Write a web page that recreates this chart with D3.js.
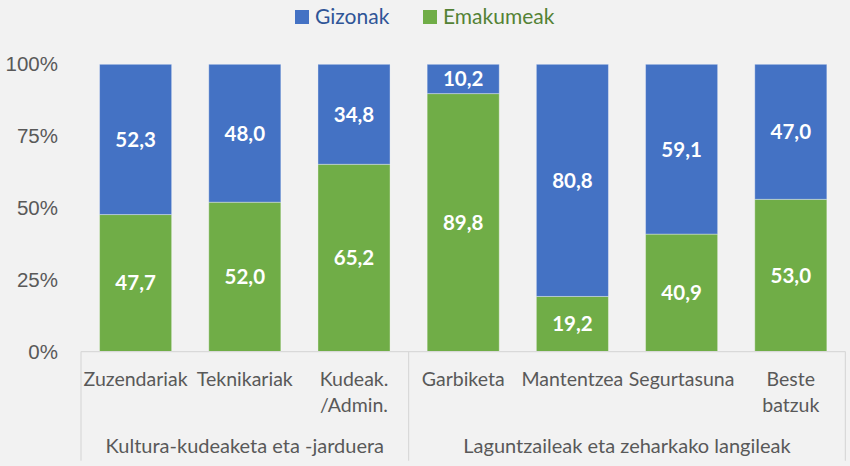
<!DOCTYPE html>
<html lang="en">
<head>
    <meta charset="UTF-8">
    <title>Gizonak eta emakumeak</title>
    <script src="https://d3js.org/d3.v7.min.js"></script>
    <style>
        body {
            margin: 0;
            background-color: #f2f2f2;
            font-family: Lato, 'Open Sans', sans-serif;
        }

        svg {
            display: block;
            background-color: #f2f2f2;
        }

        .axis path,
        .axis line {
            display: none;
        }

        .axis text {
            fill: #595959;
            font-size: 20.5px;
        }

        .cat-label {
            fill: #595959;
            font-size: 19.5px;
        }

        .group-label {
            fill: #595959;
            font-size: 20px;
        }

        .value-label {
            fill: #fff;
            font-weight: bold;
            font-size: 20.5px;
        }

        .legend text {
            font-size: 21px;
        }
    </style>
</head>
<body>
    <div id="chart"></div>
    <script>
        // data
        const categories = ["Zuzendariak", "Teknikariak", "Kudeak.\n/Admin.", "Garbiketa",
            "Mantentzea", "Segurtasuna", "Beste\nbatzuk"];
        const groups = ["Kultura-kudeaketa eta -jarduera", "Laguntzaileak eta zeharkako langileak"];
        const groupSizes = [3, 4];
        const gizonak = [52.3, 48.0, 34.8, 10.2, 80.8, 59.1, 47.0];
        const emakumeak = [47.7, 52.0, 65.2, 89.8, 19.2, 40.9, 53.0];
        const yTicks = [0, 25, 50, 75, 100];

        const seriesNames = ["Gizonak", "Emakumeak"];
        const colors = { gizonak: "#4472c4", emakumeak: "#70ad47" };
        const textColors = { gizonak: "#2f5597", emakumeak: "#548235" };

        let width = 850, height = 466;
        let plot = { left: 81, right: 845.4, top: 64.3, bottom: 351.6 };

        let svg = d3.select("#chart").append("svg")
            .attr("width", width)
            .attr("height", height);

        let rows = categories.map((c, i) => ({ cat: c, gizonak: gizonak[i], emakumeak: emakumeak[i] }));
        let stacked = d3.stack().keys(["emakumeak", "gizonak"])(rows);

        let x = d3.scaleBand()
            .domain(categories)
            .range([plot.left, plot.right])
            .paddingInner(0.34)
            .paddingOuter(0.17);

        let y = d3.scaleLinear()
            .domain([0, 100])
            .range([plot.bottom, plot.top]);

        // y axis
        svg.append("g")
            .attr("class", "axis")
            .attr("transform", "translate(58,0)")
            .call(d3.axisLeft(y).tickValues(yTicks).tickSize(0).tickPadding(0).tickFormat(d => d + "%"));

        // bars
        stacked.forEach(layer => {
            svg.append("g")
                .selectAll("rect")
                .data(layer)
                .join("rect")
                .attr("x", d => x(d.data.cat))
                .attr("y", d => y(d[1]))
                .attr("width", x.bandwidth())
                .attr("height", d => y(d[0]) - y(d[1]))
                .attr("fill", colors[layer.key])
                .attr("stroke", "#ffffff")
                .attr("stroke-opacity", 0.35)
                .attr("stroke-width", 1);

            svg.append("g")
                .selectAll("text")
                .data(layer)
                .join("text")
                .attr("class", "value-label")
                .attr("x", d => x(d.data.cat) + x.bandwidth() / 2)
                .attr("y", d => (y(d[0]) + y(d[1])) / 2)
                .attr("dy", "0.36em")
                .attr("text-anchor", "middle")
                .text(d => (d[1] - d[0]).toFixed(1).replace(".", ","));
        });

        // x axis line and group separators
        svg.append("line")
            .attr("x1", plot.left).attr("x2", plot.right)
            .attr("y1", plot.bottom).attr("y2", plot.bottom)
            .attr("stroke", "#d9d9d9").attr("stroke-width", 1.2);

        let bounds = [0];
        groupSizes.forEach(n => bounds.push(bounds[bounds.length - 1] + n));
        let step = x.step();
        let edgeX = i => plot.left + i * step;

        svg.selectAll(".sep")
            .data(bounds)
            .join("line")
            .attr("class", "sep")
            .attr("x1", d => edgeX(d)).attr("x2", d => edgeX(d))
            .attr("y1", plot.bottom).attr("y2", 460.7)
            .attr("stroke", "#d9d9d9").attr("stroke-width", 1.2);

        // category labels
        svg.selectAll(".cat-label")
            .data(categories)
            .join("text")
            .attr("class", "cat-label")
            .attr("text-anchor", "middle")
            .attr("y", 385.7)
            .each(function (d) {
                let t = d3.select(this);
                d.split("\n").forEach((line, k) => {
                    t.append("tspan")
                        .attr("x", x(d) + x.bandwidth() / 2)
                        .attr("dy", k === 0 ? 0 : 26)
                        .text(line);
                });
            });

        // group labels
        svg.selectAll(".group-label")
            .data(groups)
            .join("text")
            .attr("class", "group-label")
            .attr("text-anchor", "middle")
            .attr("x", (d, i) => (edgeX(bounds[i]) + edgeX(bounds[i + 1])) / 2)
            .attr("y", 453.3)
            .text(d => d);

        // legend
        let legend = svg.append("g").attr("class", "legend");
        let legendKeys = ["gizonak", "emakumeak"];
        let legendX = [295, 423];
        legendKeys.forEach((k, i) => {
            legend.append("rect")
                .attr("x", legendX[i]).attr("y", 10)
                .attr("width", 14).attr("height", 14)
                .attr("fill", colors[k]);
            legend.append("text")
                .attr("x", legendX[i] + 20).attr("y", 24)
                .attr("fill", textColors[k])
                .text(seriesNames[i]);
        });
    </script>
</body>
</html>
